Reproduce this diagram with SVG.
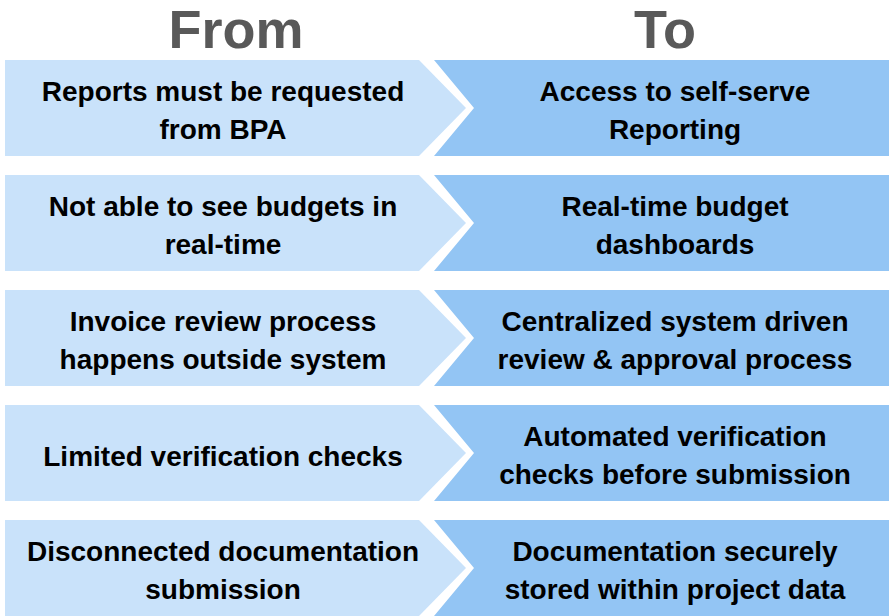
<svg xmlns="http://www.w3.org/2000/svg" width="889" height="616" viewBox="0 0 889 616">
  <defs>
    <style>
      .from { fill: #c9e2fa; }
      .to { fill: #93c5f4; }
      .title { font-family: "Liberation Sans", Arial, sans-serif; font-weight: bold; font-size: 54px; fill: #595959; text-anchor: middle; }
      .t { font-family: "Liberation Sans", Arial, sans-serif; font-weight: bold; font-size: 28px; fill: #000000; text-anchor: middle; }
    </style>
    <polygon id="fromShape" points="5,0 419,0 466,48 419,96 5,96"/>
    <polygon id="toShape" points="434,0 889,0 889,96 434,96 474,48"/>
  </defs>
  <rect width="889" height="616" fill="#ffffff"/>
  <g id="titles">
    <text class="title" x="236" y="48">From</text>
    <text class="title" x="665" y="48">To</text>
  </g>
  <g id="connectors"></g>

  <g id="row1" transform="translate(0,60)">
    <g id="from1"><use href="#fromShape" class="from"/>
      <text class="t" x="223" y="41">Reports must be requested</text>
      <text class="t" x="223" y="79">from BPA</text></g>
    <g id="to1"><use href="#toShape" class="to"/>
      <text class="t" x="675" y="41">Access to self-serve</text>
      <text class="t" x="675" y="79">Reporting</text></g>
  </g>

  <g id="row2" transform="translate(0,175)">
    <g id="from2"><use href="#fromShape" class="from"/>
      <text class="t" x="223" y="41">Not able to see budgets in</text>
      <text class="t" x="223" y="79">real-time</text></g>
    <g id="to2"><use href="#toShape" class="to"/>
      <text class="t" x="675" y="41">Real-time budget</text>
      <text class="t" x="675" y="79">dashboards</text></g>
  </g>

  <g id="row3" transform="translate(0,290)">
    <g id="from3"><use href="#fromShape" class="from"/>
      <text class="t" x="223" y="41">Invoice review process</text>
      <text class="t" x="223" y="79">happens outside system</text></g>
    <g id="to3"><use href="#toShape" class="to"/>
      <text class="t" x="675" y="41">Centralized system driven</text>
      <text class="t" x="675" y="79">review &amp; approval process</text></g>
  </g>

  <g id="row4" transform="translate(0,405)">
    <g id="from4"><use href="#fromShape" class="from"/>
      <text class="t" x="223" y="61">Limited verification checks</text></g>
    <g id="to4"><use href="#toShape" class="to"/>
      <text class="t" x="675" y="41">Automated verification</text>
      <text class="t" x="675" y="79">checks before submission</text></g>
  </g>

  <g id="row5" transform="translate(0,520)">
    <g id="from5"><use href="#fromShape" class="from"/>
      <text class="t" x="223" y="41">Disconnected documentation</text>
      <text class="t" x="223" y="79">submission</text></g>
    <g id="to5"><use href="#toShape" class="to"/>
      <text class="t" x="675" y="41">Documentation securely</text>
      <text class="t" x="675" y="79">stored within project data</text></g>
  </g>
</svg>
